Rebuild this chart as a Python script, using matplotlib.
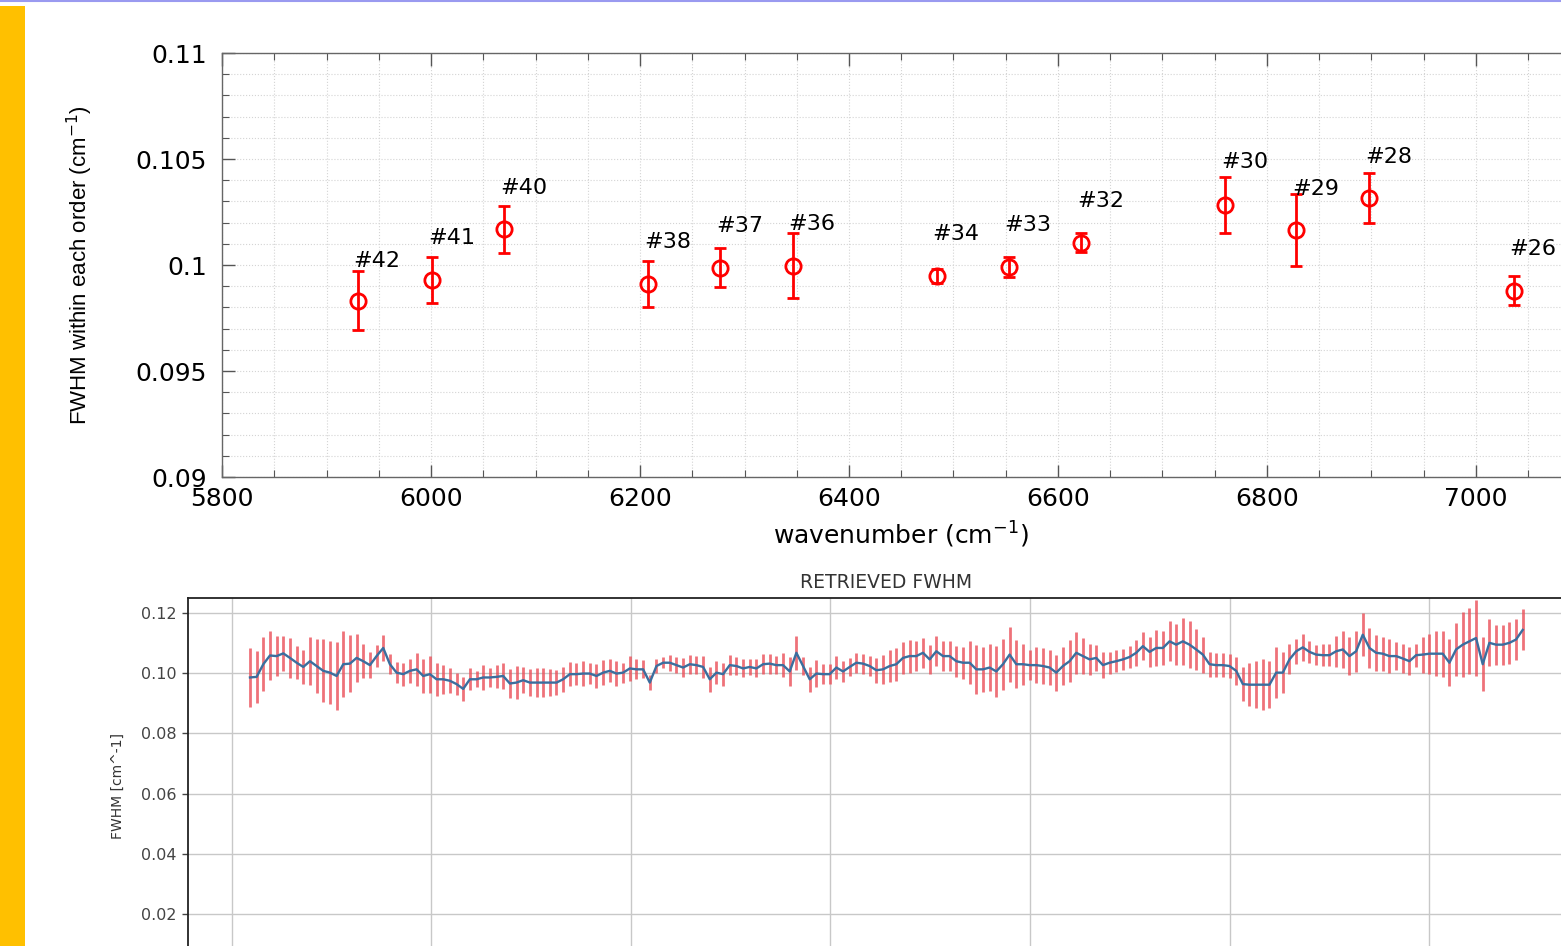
import numpy as np
import matplotlib
matplotlib.use('Agg')
import matplotlib.pyplot as plt
from matplotlib.ticker import MultipleLocator, FuncFormatter
from matplotlib.patches import Rectangle
from matplotlib.lines import Line2D

# top panel: FWHM per order
order_labels = ['#42', '#41', '#40', '#38', '#37', '#36', '#34', '#33', '#32', '#30', '#29', '#28', '#26']
order_wn = [5930, 6001, 6070, 6208, 6277, 6346, 6484, 6553, 6622, 6760, 6828, 6898, 7036]
order_fwhm = [0.09832, 0.09929, 0.10168, 0.09910, 0.09986, 0.09997, 0.09948, 0.09992,
              0.10105, 0.10285, 0.10165, 0.10316, 0.09879]
order_err = [0.00140, 0.00107, 0.00110, 0.00110, 0.00092, 0.00153, 0.00033, 0.00047,
             0.00046, 0.00132, 0.00170, 0.00120, 0.00070]
label_y = [0.10020, 0.10127, 0.10363, 0.10108, 0.10184, 0.10193, 0.10146, 0.10189,
           0.10302, 0.10486, 0.10358, 0.10509, 0.10075]

# bottom panel: retrieved FWHM per sample
fwhm_center = [
    0.0986, 0.0988, 0.1030, 0.1059, 0.1057, 0.1066, 0.1051, 0.1035, 0.1021, 0.1040,
    0.1024, 0.1008, 0.1002, 0.0991, 0.1030, 0.1032, 0.1051, 0.1040, 0.1027, 0.1057,
    0.1084, 0.1030, 0.1002, 0.0997, 0.1008, 0.1013, 0.0991, 0.0997, 0.0980, 0.0980,
    0.0975, 0.0964, 0.0948, 0.0980, 0.0980, 0.0986, 0.0986, 0.0988, 0.0991, 0.0966,
    0.0969, 0.0977, 0.0969, 0.0969, 0.0969, 0.0969, 0.0969, 0.0980, 0.0997, 0.0997,
    0.0999, 0.0999, 0.0991, 0.1002, 0.1008, 0.0999, 0.1002, 0.1016, 0.1013, 0.1013,
    0.0969, 0.1024, 0.1035,
    0.1035, 0.1027, 0.1019, 0.1030, 0.1027, 0.1021, 0.0980, 0.1002, 0.0997, 0.1027,
    0.1024, 0.1016, 0.1021, 0.1016, 0.1030, 0.1032, 0.1027, 0.1027, 0.1006, 0.1068,
    0.1024, 0.0980, 0.0999, 0.0997, 0.0997, 0.1019, 0.1006, 0.1021, 0.1035, 0.1032,
    0.1024, 0.1010, 0.1013, 0.1024, 0.1030, 0.1051, 0.1057, 0.1057, 0.1068, 0.1046,
    0.1073, 0.1057, 0.1057, 0.1040, 0.1035, 0.1035, 0.1013, 0.1013, 0.1019, 0.1006,
    0.1030, 0.1062, 0.1030, 0.1030, 0.1027, 0.1027, 0.1024, 0.1019, 0.1002, 0.1024,
    0.1040, 0.1068, 0.1057, 0.1046,
    0.1051, 0.1027, 0.1035, 0.1040, 0.1046, 0.1054, 0.1068, 0.1090, 0.1071, 0.1084,
    0.1084, 0.1106, 0.1095, 0.1106, 0.1095, 0.1079, 0.1062, 0.1030, 0.1027, 0.1027,
    0.1024, 0.1008, 0.0964, 0.0962, 0.0962, 0.0962, 0.0962, 0.1002, 0.1002, 0.1046,
    0.1073, 0.1086, 0.1071, 0.1062, 0.1060, 0.1060, 0.1073, 0.1079, 0.1057, 0.1073,
    0.1128, 0.1084, 0.1068, 0.1065, 0.1057, 0.1057, 0.1049, 0.1040, 0.1060, 0.1062,
    0.1065, 0.1065, 0.1065, 0.1035, 0.1079, 0.1095, 0.1106, 0.1117, 0.1030, 0.1101,
    0.1095, 0.1095, 0.1101, 0.1112, 0.1144]
fwhm_err = [
    0.0098, 0.0087, 0.0090, 0.0081, 0.0067, 0.0059, 0.0066, 0.0055, 0.0057, 0.0080,
    0.0089, 0.0105, 0.0104, 0.0113, 0.0110, 0.0094, 0.0080, 0.0057, 0.0042, 0.0036,
    0.0044, 0.0033, 0.0034, 0.0038, 0.0041, 0.0055, 0.0055, 0.0061, 0.0055, 0.0049,
    0.0041, 0.0036, 0.0041, 0.0036, 0.0027, 0.0041, 0.0033, 0.0038, 0.0044, 0.0047,
    0.0055, 0.0044, 0.0044, 0.0047, 0.0047, 0.0044, 0.0041, 0.0041, 0.0041, 0.0036,
    0.0041, 0.0036, 0.0041, 0.0041, 0.0038, 0.0041, 0.0033, 0.0041, 0.0033, 0.0030,
    0.0025, 0.0022, 0.0019,
    0.0027, 0.0027, 0.0033, 0.0032, 0.0030, 0.0036, 0.0041, 0.0038, 0.0038, 0.0032,
    0.0030, 0.0030, 0.0027, 0.0030, 0.0033, 0.0033, 0.0030, 0.0041, 0.0049, 0.0057,
    0.0030, 0.0041, 0.0044, 0.0033, 0.0033, 0.0038, 0.0036, 0.0030, 0.0033, 0.0033,
    0.0033, 0.0041, 0.0049, 0.0052, 0.0055, 0.0052, 0.0055, 0.0049, 0.0050, 0.0049,
    0.0050, 0.0049, 0.0049, 0.0052, 0.0053, 0.0071, 0.0082, 0.0074, 0.0079, 0.0086,
    0.0085, 0.0092, 0.0079, 0.0068, 0.0049, 0.0060, 0.0060, 0.0057, 0.0060, 0.0063,
    0.0069, 0.0069, 0.0060, 0.0052,
    0.0044, 0.0042, 0.0037, 0.0036, 0.0035, 0.0038, 0.0044, 0.0047, 0.0049, 0.0060,
    0.0057, 0.0066, 0.0068, 0.0079, 0.0077, 0.0068, 0.0060, 0.0041, 0.0039, 0.0039,
    0.0041, 0.0047, 0.0057, 0.0071, 0.0079, 0.0085, 0.0079, 0.0085, 0.0068, 0.0050,
    0.0041, 0.0044, 0.0036, 0.0033, 0.0036, 0.0036, 0.0052, 0.0063, 0.0063, 0.0068,
    0.0071, 0.0066, 0.0060, 0.0057, 0.0057, 0.0047, 0.0047, 0.0047, 0.0038, 0.0060,
    0.0066, 0.0074, 0.0077, 0.0079, 0.0087, 0.0107, 0.0110, 0.0125, 0.0090, 0.0078,
    0.0066, 0.0066, 0.0069, 0.0067, 0.0068]

W, H = 1561.0, 946.0
fig = plt.figure(figsize=(W / 100, H / 100), dpi=100)


def px_rect(left, top, right, bottom):
    return [left / W, 1 - bottom / H, (right - left) / W, (bottom - top) / H]


# slide decorations
fig.add_artist(Rectangle((0, 0), 25 / W, 1 - 6 / H, transform=fig.transFigure,
                         color='#ffc000', lw=0))
fig.add_artist(Line2D([0, 1], [1 - 1 / H, 1 - 1 / H], transform=fig.transFigure,
                      color='#9a9af0', lw=1.5))

# ---- top panel ----
ax = fig.add_axes(px_rect(222, 53, 1580.5, 477))
ax.errorbar(order_wn, order_fwhm, yerr=order_err, fmt='o', color='red', mfc='none',
            mec='red', ms=11, mew=2, elinewidth=2, capsize=4.5, capthick=2, zorder=3)
for lab, xw, yl in zip(order_labels, order_wn, label_y):
    ax.annotate(lab, xy=(xw, yl), xytext=(-3, 0), textcoords='offset points',
                ha='left', va='center', fontsize=16, color='black')

ax.set_xlim(5800, 7100)
ax.set_ylim(0.09, 0.11)
ax.xaxis.set_major_locator(MultipleLocator(200))
ax.xaxis.set_minor_locator(MultipleLocator(50))
ax.yaxis.set_major_locator(MultipleLocator(0.005))
ax.yaxis.set_minor_locator(MultipleLocator(0.001))
ax.yaxis.set_major_formatter(FuncFormatter(lambda v, p: '%g' % round(v, 4)))
ax.grid(which='both', ls=':', color='#d4d4d4', lw=0.8)
ax.set_axisbelow(True)
ax.tick_params(which='both', direction='in', top=True, right=False, color='#555555')
ax.tick_params(which='major', length=9, width=1)
ax.tick_params(which='minor', length=5, width=0.8)
ax.tick_params(axis='x', which='major', pad=7, labelsize=18)
ax.tick_params(axis='y', which='major', pad=11, labelsize=18)
for s in ax.spines.values():
    s.set_color('#666666')
    s.set_linewidth(1)

ax.set_xlabel('wavenumber (cm$^{-1}$)', fontsize=18)
ax.xaxis.set_label_coords(0.5, -0.10)
ax.set_ylabel('FWHM within each order (cm$^{-1}$)', fontsize=16,
              family=['Liberation Sans', 'DejaVu Sans'])
ax.yaxis.set_label_coords(-0.0935, 0.5)

# ---- bottom panel ----
ax2 = fig.add_axes(px_rect(188, 598, 1600, 974.25))
idx = np.arange(len(fwhm_center))
ax2.errorbar(idx, fwhm_center, yerr=fwhm_err, fmt='none', ecolor='#ea4f58',
             elinewidth=2, alpha=0.8, zorder=2)
ax2.plot(idx, fwhm_center, color='#3b6e9e', lw=1.7, zorder=3)
ax2.set_xlim(-9.3, 202.6)
ax2.set_ylim(0, 0.125)
ax2.set_xticks(np.arange(-2.75, 200, 29.95))
ax2.set_yticks([0.02, 0.04, 0.06, 0.08, 0.10, 0.12])
ax2.yaxis.set_major_formatter(FuncFormatter(lambda v, p: '%.2f' % v))
ax2.grid(color='#c8c8c8', lw=1)
ax2.set_axisbelow(True)
ax2.tick_params(axis='x', length=0, labelbottom=False)
ax2.tick_params(axis='y', length=4, width=1, color='#444444', labelsize=11.5,
                labelcolor='#444444', pad=4)
for s in ax2.spines.values():
    s.set_color('#222222')
    s.set_linewidth(1.3)
ax2.set_ylabel('FWHM [cm^-1]', fontsize=10, color='#333333')
ax2.yaxis.set_label_coords(-0.045, 0.5)
fig.text(886 / W, 1 - 582 / H, 'RETRIEVED FWHM', ha='center', va='center',
         fontsize=13.5, color='#333333')

fig.savefig('out.png', dpi=100)
